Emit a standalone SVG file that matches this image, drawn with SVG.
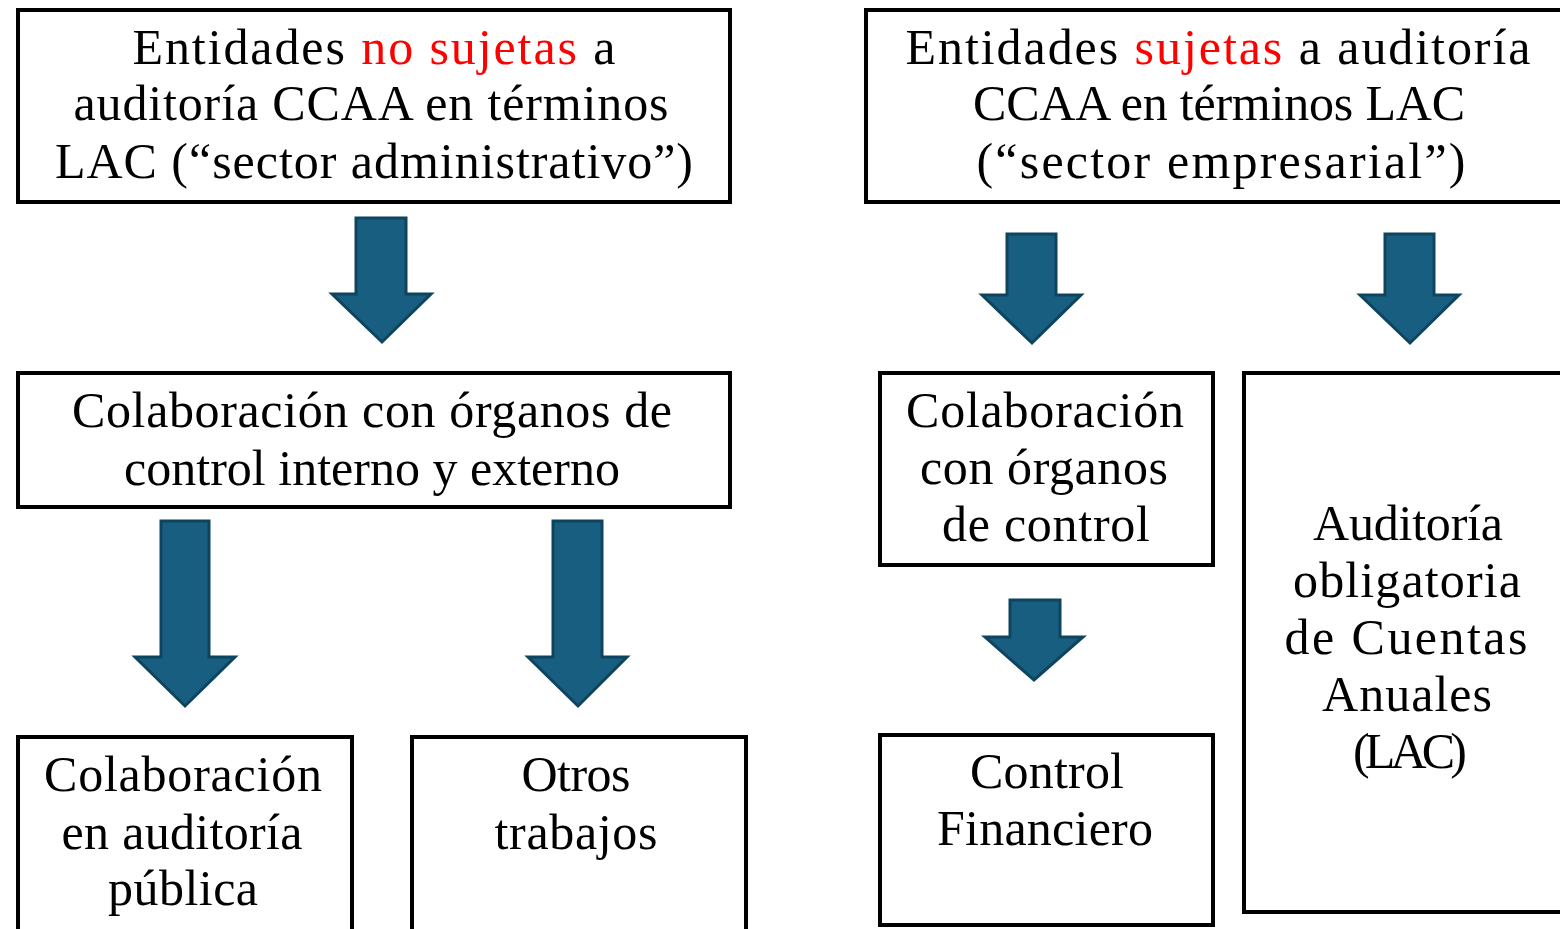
<svg xmlns="http://www.w3.org/2000/svg" width="1560" height="929" viewBox="0 0 1560 929">
<style>
.box{fill:#fff;stroke:#000;stroke-width:4}
.t{font-family:"Liberation Serif","Times New Roman",serif;font-size:50px;fill:#000;text-anchor:middle}
.red{fill:#ff0000}
.arr{fill:#175e80;stroke:#0f445e;stroke-width:3;stroke-linejoin:miter}
</style>
<rect width="1560" height="929" fill="#fff"/>
<g id="connectors">
<path class="arr" d="M356,218 H406 V294 H431 L382,342 L332,294 H356 Z"/>
<path class="arr" d="M1007,234 H1056 V295 H1081 L1032,343 L982,295 H1007 Z"/>
<path class="arr" d="M1385,234 H1434 V295 H1459 L1410,343 L1360,295 H1385 Z"/>
<path class="arr" d="M161,521 H209 V657 H235 L185,706 L135,657 H161 Z"/>
<path class="arr" d="M553,521 H602 V657 H627 L578,706 L528,657 H553 Z"/>
<path class="arr" d="M1010,600 H1060 V637 H1083 L1034,680 L985,637 H1010 Z"/>
</g>
<g id="node-no-sujetas">
<rect class="box" x="18" y="10" width="712" height="192"/>
<text class="t" x="374" y="64" textLength="483">Entidades <tspan class="red">no sujetas</tspan> a</text>
<text class="t" x="371" y="120" textLength="595">auditoría CCAA en términos</text>
<text class="t" x="374" y="178" textLength="638">LAC (“sector administrativo”)</text>
</g>
<g id="node-sujetas">
<rect class="box" x="866" y="10" width="710" height="192"/>
<text class="t" x="1218" y="64" textLength="625">Entidades <tspan class="red">sujetas</tspan> a auditoría</text>
<text class="t" x="1219" y="120" textLength="492">CCAA en términos LAC</text>
<text class="t" x="1221" y="178" textLength="489">(“sector empresarial”)</text>
</g>
<g id="node-colab-interno-externo">
<rect class="box" x="18" y="373" width="712" height="134"/>
<text class="t" x="372" y="427" textLength="600">Colaboración con órganos de</text>
<text class="t" x="372" y="485" textLength="496">control interno y externo</text>
</g>
<g id="node-colab-organos-control">
<rect class="box" x="880" y="373" width="333" height="192"/>
<text class="t" x="1045" y="427" textLength="278">Colaboración</text>
<text class="t" x="1044" y="484" textLength="248">con órganos</text>
<text class="t" x="1046" y="541" textLength="208">de control</text>
</g>
<g id="node-auditoria-obligatoria">
<rect class="box" x="1244" y="373" width="330" height="539"/>
<text class="t" x="1408" y="540" textLength="190">Auditoría</text>
<text class="t" x="1407" y="597" textLength="228">obligatoria</text>
<text class="t" x="1406" y="654" textLength="243">de Cuentas</text>
<text class="t" x="1407" y="711" textLength="170">Anuales</text>
<text class="t" x="1410" y="768" textLength="114">(LAC)</text>
</g>
<g id="node-colab-auditoria-publica">
<rect class="box" x="18" y="737" width="334" height="194"/>
<text class="t" x="183" y="791" textLength="278">Colaboración</text>
<text class="t" x="182" y="849" textLength="241">en auditoría</text>
<text class="t" x="183" y="905" textLength="150">pública</text>
</g>
<g id="node-otros-trabajos">
<rect class="box" x="412" y="737" width="334" height="194"/>
<text class="t" x="576" y="791" textLength="109">Otros</text>
<text class="t" x="576" y="849" textLength="163">trabajos</text>
</g>
<g id="node-control-financiero">
<rect class="box" x="880" y="735" width="333" height="190"/>
<text class="t" x="1047" y="788" textLength="154">Control</text>
<text class="t" x="1045" y="845" textLength="216">Financiero</text>
</g>
</svg>
